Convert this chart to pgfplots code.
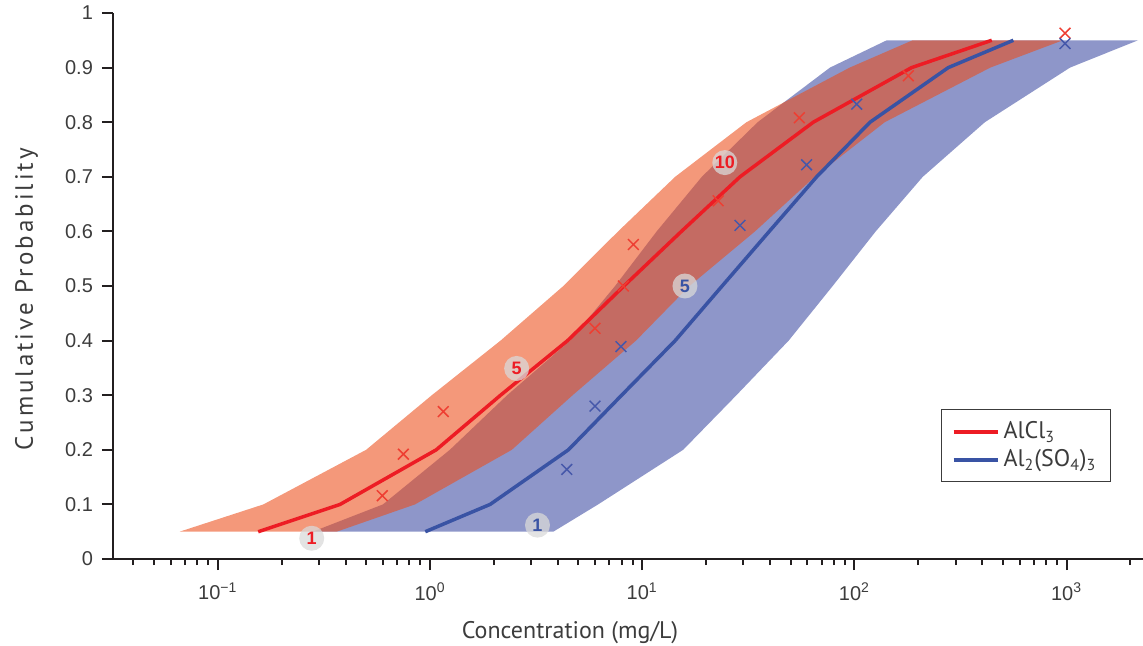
\documentclass[border=0pt]{standalone}
\usepackage{pgfplots}
\pgfplotsset{compat=1.18}
\usepackage{pgfplotstable}
\usepackage{fontspec}
\setmainfont{PT Sans}
\newfontfamily\arialf{Liberation Sans}
\newfontfamily\ylabfont[LetterSpace=12]{PT Sans}
\definecolor{redline}{RGB}{237,28,36}
\definecolor{blueline}{RGB}{57,83,164}
\definecolor{redfill}{RGB}{236,77,26}
\definecolor{bluefill}{RGB}{142,150,201}
\definecolor{redmark}{RGB}{238,62,50}
\definecolor{bluemark}{RGB}{70,88,170}
\definecolor{axisgray}{RGB}{35,31,32}
\definecolor{textgray}{RGB}{60,60,60}

% AlCl3 band: upper-left boundary then lower-right boundary
\pgfplotstableread{
x y
0.066 0.05
0.164 0.10
0.50 0.20
1.02 0.30
2.15 0.40
4.25 0.50
7.7 0.60
14.3 0.70
31 0.80
95 0.90
188 0.95
960 0.95
437 0.90
139 0.80
65 0.70
34 0.60
16.7 0.50
9.35 0.40
4.7 0.30
2.43 0.20
0.85 0.10
0.363 0.05
}\redband

% Al2(SO4)3 band
\pgfplotstableread{
x y
0.28 0.05
0.60 0.10
1.24 0.20
2.31 0.30
4.57 0.40
7.45 0.50
11.7 0.60
19.1 0.70
35 0.80
76.7 0.90
142 0.95
2170 0.95
1038 0.90
412 0.80
210 0.70
126 0.60
79 0.50
49 0.40
27.8 0.30
15.6 0.20
6.2 0.10
3.81 0.05
}\blueband

\pgfplotstableread{
x y
0.155 0.05
0.377 0.10
1.07 0.20
2.15 0.30
4.45 0.40
8.2 0.50
15.3 0.60
28.9 0.70
64 0.80
186 0.90
444 0.95
}\redlinedata

\pgfplotstableread{
x y
0.95 0.05
1.92 0.10
4.49 0.20
8.0 0.30
14.3 0.40
23.8 0.50
39.7 0.60
66.4 0.70
118.5 0.80
277 0.90
561 0.95
}\bluelinedata

\pgfplotstableread{
x y
0.596 0.116
0.749 0.192
1.155 0.270
5.99 0.4225
8.15 0.500
9.08 0.576
22.8 0.656
55.0 0.808
179.5 0.885
983 0.963
}\redmarks

\pgfplotstableread{
x y
4.41 0.164
5.99 0.280
7.94 0.389
28.9 0.611
59.5 0.722
102.5 0.833
983 0.944
}\bluemarks

\begin{document}
\begin{tikzpicture}
\begin{axis}[
  scale only axis,
  width=515pt, height=273pt,
  xmode=log,
  xmin=0.03206, xmax=2291,
  ymin=0, ymax=1,
  axis lines*=left,
  axis line style={axisgray, line width=1pt},
  tick style={axisgray, line width=1pt},
  tick align=outside,
  major tick length=5.5pt,
  minor tick length=3pt,
  xtick={0.1,1,10,100,1000},
  xticklabels={10\textsuperscript{−1},10\textsuperscript{0},10\textsuperscript{1},10\textsuperscript{2},10\textsuperscript{3}},
  minor xtick={0.04,0.05,0.06,0.07,0.08,0.09,0.2,0.3,0.4,0.5,0.6,0.7,0.8,0.9,2,3,4,5,6,7,8,9,20,30,40,50,60,70,80,90,200,300,400,500,600,700,800,900,2000},
  ytick={0,0.1,0.2,0.3,0.4,0.5,0.6,0.7,0.8,0.9,1},
  yticklabels={0,0.1,0.2,0.3,0.4,0.5,0.6,0.7,0.8,0.9,1},
  xticklabel style={font=\arialf\fontsize{10}{11}\selectfont, text=textgray, yshift=-3pt},
  yticklabel style={font=\arialf\fontsize{10}{12}\selectfont, text=textgray, xshift=-1pt},
  xlabel={Concentration (mg/L)},
  ylabel={Cumulative Probability},
  xlabel style={at={(axis description cs:0.4437,-0.1447)}, anchor=base, font=\fontsize{12}{14}\selectfont, text=textgray},
  ylabel style={at={(axis description cs:-0.0777,0.476)}, anchor=base, rotate=0, font=\ylabfont\fontsize{12.5}{14}\selectfont, text=textgray},
  legend style={at={(axis description cs:0.8039,0.2747)}, anchor=north west,
    draw=textgray, line width=0.6pt, font=\fontsize{12}{14}\selectfont, text=textgray,
    inner xsep=5pt, inner ysep=4pt, row sep=0pt,
    /tikz/every even column/.append style={column sep=6pt}},
  legend cell align=left,
  legend image code/.code={\draw[#1, line width=2pt] (0pt,0pt) -- (22pt,0pt);},
]
\addplot[fill=bluefill, draw=none, forget plot] table {\blueband};
\addplot[fill=redfill, fill opacity=0.58, draw=none, forget plot] table {\redband};
\addplot[redline, line width=1.75pt, no marks] table {\redlinedata};
\addlegendentry{AlCl\textsubscript{3}}
\addplot[blueline, line width=1.75pt, no marks] table {\bluelinedata};
\addlegendentry{Al\textsubscript{2}(SO\textsubscript{4})\textsubscript{3}}
\addplot[only marks, mark=x, mark size=3.8pt, redmark, line width=0.75pt, forget plot] table {\redmarks};
\addplot[only marks, mark=x, mark size=3.8pt, bluemark, line width=0.75pt, forget plot] table {\bluemarks};
\tikzset{lab/.style={circle, fill=gray!30, fill opacity=0.75, text opacity=1, inner sep=0pt, minimum size=12.5pt, font=\arialf\bfseries\fontsize{9}{10}\selectfont}}
\node[lab, text=redline] at (axis cs:0.277,0.038) {1};
\node[lab, text=redline] at (axis cs:2.56,0.349) {5};
\node[lab, text=redline] at (axis cs:24.5,0.726) {10};
\node[lab, text=blueline] at (axis cs:3.21,0.062) {1};
\node[lab, text=blueline] at (axis cs:15.9,0.500) {5};
\end{axis}
\pgfresetboundingbox
\path[use as bounding box] (-56.5pt,-43.5pt) rectangle (515pt,279.5pt);
\end{tikzpicture}
\end{document}
